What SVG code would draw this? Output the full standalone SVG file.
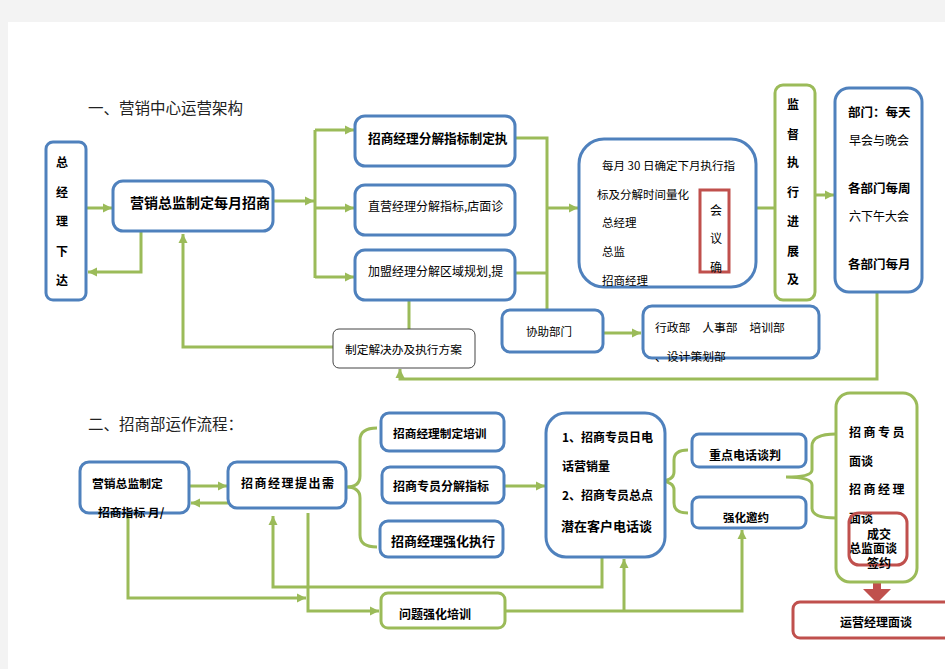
<svg xmlns="http://www.w3.org/2000/svg" width="945" height="669" viewBox="0 0 945 669">
<defs>
<marker id="ag" markerUnits="userSpaceOnUse" markerWidth="10" markerHeight="10" refX="9" refY="5" orient="auto">
<path d="M0,0.5 L9,5 L0,9.5 z" fill="#9bbb59"/>
</marker>
<style>
.bb{fill:#fff;stroke:#4f81bd;stroke-width:3}
.gb{fill:#fff;stroke:#9bbb59;stroke-width:3}
.rb{fill:none;stroke:#c0504d;stroke-width:3}
.ln{fill:none;stroke:#9bbb59;stroke-width:3}
.ar{fill:none;stroke:#9bbb59;stroke-width:3;marker-end:url(#ag)}
text{font-family:"Noto Sans CJK SC","Liberation Sans",sans-serif;fill:#000;font-size:12px}
.b{font-weight:bold}
.t{font-size:15.5px;fill:#222}
</style>
</defs>
<rect width="945" height="669" fill="#f3f3f3"/>
<rect x="8" y="22" width="937" height="647" fill="#fff"/>

<text class="t" x="88" y="114">一、营销中心运营架构</text>
<text class="t" x="88" y="430">二、招商部运作流程：</text>

<g id="connectors">
<path class="ar" d="M86 208 L112 208"/>
<path class="ar" d="M141 232 L141 272 L88 272"/>
<path class="ar" d="M333 347 L183 347 L183 234"/>
<path class="ar" d="M273 201 L314 201"/>
<path class="ln" d="M315 130 L315 278"/>
<path class="ar" d="M315 130 L354 130"/>
<path class="ar" d="M315 208 L354 208"/>
<path class="ar" d="M315 277 L354 277"/>
<path class="ln" d="M515 138 L547 138 L547 310"/>
<path class="ln" d="M515 273 L547 273"/>
<path class="ar" d="M547 208 L578 208"/>
<path class="ln" d="M409 300 L409 329"/>
<path class="ln" d="M756 208 L775 208"/>
<path class="ar" d="M815 195 L834 195"/>
<path class="ar" d="M877 292 L877 379 L400 379 L400 369"/>
<path class="ar" d="M603 333 L641 333"/>
<path class="ln" d="M666 190 Q674 190 674 198 L674 220 Q674 228 692 228 Q674 228 674 236 L674 255 Q674 264 652 264"/>

<path class="ar" d="M189 486 L227 486"/>
<path class="ar" d="M229 503 L191 503"/>
<path class="ln" d="M377 428 Q360 428 360 440 L360 476 Q360 487 346 487 Q360 487 360 498 L360 535 Q360 547 377 547"/>
<path class="ar" d="M504 486 L545 486"/>
<path class="ln" d="M688 450 Q674 450 674 460 L674 472 Q674 481 658 481 Q674 481 674 490 L674 503 Q674 513 688 513"/>
<path class="ln" d="M836 434 Q812 434 812 446 L812 470 Q812 477 786 477 Q812 477 812 485 L812 508 Q812 518 836 518"/>
<path class="ar" d="M128 513 L128 598 L306 598"/>
<path class="ar" d="M308 513 L308 611 L379 611"/>
<path class="ar" d="M602 557 L602 587 L273 587 L273 516"/>
<path class="ar" d="M505 611 L742 611 L742 530"/>
<path class="ar" d="M624 611 L624 559"/>
<path d="M873 582 L881 582 L881 589 L891 589 L877 603 L863 589 L873 589 z" fill="#c0504d"/>
</g>

<g id="n-zjl">
<rect class="bb" x="46" y="142" width="40" height="158" rx="7"/>
<text class="b" x="62" y="167" text-anchor="middle">总</text>
<text class="b" x="62" y="197" text-anchor="middle">经</text>
<text class="b" x="62" y="226" text-anchor="middle">理</text>
<text class="b" x="62" y="256" text-anchor="middle">下</text>
<text class="b" x="62" y="285" text-anchor="middle">达</text>
</g>
<g id="n-yxzj">
<rect class="bb" x="113" y="181" width="160" height="50" rx="10"/>
<text class="b" x="130" y="208" style="font-size:14px">营销总监制定每月招商</text>
</g>
<g id="n-a">
<rect class="bb" x="355" y="116" width="160" height="50" rx="10"/>
<text class="b" x="368" y="143" style="font-size:12.7px">招商经理分解指标制定执</text>
</g>
<g id="n-b">
<rect class="bb" x="355" y="185" width="160" height="50" rx="10"/>
<text x="368" y="211" style="font-size:12px">直营经理分解指标,店面诊</text>
</g>
<g id="n-c">
<rect class="bb" x="355" y="250" width="160" height="50" rx="10"/>
<text x="368" y="276" style="font-size:12px">加盟经理分解区域规划,提</text>
</g>
<g id="n-d">
<rect class="bb" x="579" y="139" width="177" height="148" rx="25"/>
<text x="602" y="170" style="font-size:11.5px">每月 30 日确定下月执行指</text>
<text x="597" y="199" style="font-size:11.5px">标及分解时间量化</text>
<text x="602" y="227" style="font-size:11.5px">总经理</text>
<text x="602" y="256" style="font-size:11.5px">总监</text>
<text x="602" y="285" style="font-size:11.5px">招商经理</text>
</g>
<g id="n-hy">
<rect class="rb" x="700" y="190" width="29" height="82"/>
<text x="716" y="215" text-anchor="middle">会</text>
<text x="716" y="243" text-anchor="middle">议</text>
<text x="716" y="272" text-anchor="middle">确</text>
</g>
<g id="n-jd">
<rect class="gb" x="775" y="85" width="40" height="215" rx="8"/>
<text class="b" x="793" y="109" text-anchor="middle">监</text>
<text class="b" x="793" y="139" text-anchor="middle">督</text>
<text class="b" x="793" y="167" text-anchor="middle">执</text>
<text class="b" x="793" y="197" text-anchor="middle">行</text>
<text class="b" x="793" y="226" text-anchor="middle">进</text>
<text class="b" x="793" y="256" text-anchor="middle">展</text>
<text class="b" x="793" y="284" text-anchor="middle">及</text>
</g>
<g id="n-f">
<rect class="bb" x="835" y="88" width="87" height="204" rx="14"/>
<text class="b" x="848" y="117" style="font-size:12.5px">部门：每天</text>
<text x="849" y="145">早会与晚会</text>
<text class="b" x="848" y="193" style="font-size:12.5px">各部门每周</text>
<text x="849" y="221">六下午大会</text>
<text class="b" x="848" y="269" style="font-size:12.5px">各部门每月</text>
</g>
<g id="n-g">
<rect x="333" y="329" width="142" height="39" rx="6" fill="#fff" stroke="#444" stroke-width="1"/>
<text x="345" y="354" style="font-size:11.7px">制定解决办及执行方案</text>
</g>
<g id="n-h">
<rect class="bb" x="502" y="310" width="101" height="42" rx="8"/>
<text x="526" y="336" style="font-size:11.5px">协助部门</text>
</g>
<g id="n-i">
<rect class="bb" x="643" y="306" width="176" height="52" rx="9"/>
<text x="655" y="332" style="font-size:11.8px">行政部　人事部　培训部</text>
<text x="655" y="361" style="font-size:11.8px">、设计策划部</text>
</g>

<g id="n-j">
<rect class="bb" x="80" y="462" width="109" height="51" rx="9"/>
<text class="b" x="92" y="488" style="font-size:11.8px">营销总监制定</text>
<text class="b" x="98" y="517" style="font-size:11.8px">招商指标 月/</text>
</g>
<g id="n-k">
<rect class="bb" x="228" y="462" width="118" height="46" rx="9"/>
<text class="b" x="241" y="488" style="letter-spacing:1.5px">招商经理提出需</text>
</g>
<g id="n-l">
<rect class="bb" x="381" y="413" width="123" height="38" rx="8"/>
<text class="b" x="393" y="438" style="font-size:11.7px">招商经理制定培训</text>
</g>
<g id="n-m">
<rect class="bb" x="382" y="467" width="122" height="36" rx="8"/>
<text class="b" x="393" y="491">招商专员分解指标</text>
</g>
<g id="n-n">
<rect class="bb" x="380" y="521" width="123" height="36" rx="8"/>
<text class="b" x="391" y="546" style="font-size:13px">招商经理强化执行</text>
</g>
<g id="n-o">
<rect class="bb" x="546" y="413" width="119" height="144" rx="20"/>
<text class="b" x="562" y="442">1、招商专员日电</text>
<text class="b" x="562" y="471">话营销量</text>
<text class="b" x="562" y="500">2、招商专员总点</text>
<text class="b" x="561" y="531" style="font-size:13px">潜在客户电话谈</text>
</g>
<g id="n-p">
<rect class="bb" x="692" y="434" width="114" height="33" rx="7"/>
<text class="b" x="709" y="460">重点电话谈判</text>
</g>
<g id="n-q">
<rect class="bb" x="692" y="497" width="114" height="31" rx="7"/>
<text class="b" x="723" y="522" style="font-size:11.5px">强化邀约</text>
</g>
<g id="n-r">
<rect class="gb" x="836" y="393" width="81" height="189" rx="14"/>
<text class="b" x="849" y="437" style="letter-spacing:2.5px">招商专员</text>
<text class="b" x="849" y="466">面谈</text>
<text class="b" x="849" y="494" style="letter-spacing:2.5px">招商经理</text>
<text class="b" x="849" y="523">面谈</text>
<text class="b" x="849" y="553">总监面谈</text>
</g>
<g id="n-cj">
<rect class="rb" x="849" y="513" width="58" height="52" rx="10"/>
<text class="b" x="867" y="539">成交</text>
<text class="b" x="867" y="568">签约</text>
</g>
<g id="n-s">
<rect class="rb" x="793" y="602" width="160" height="36" rx="7" style="fill:#fff"/>
<text class="b" x="840" y="627">运营经理面谈</text>
</g>
<g id="n-t">
<rect class="gb" x="381" y="593" width="124" height="35" rx="7"/>
<text class="b" x="399" y="619">问题强化培训</text>
</g>
</svg>
